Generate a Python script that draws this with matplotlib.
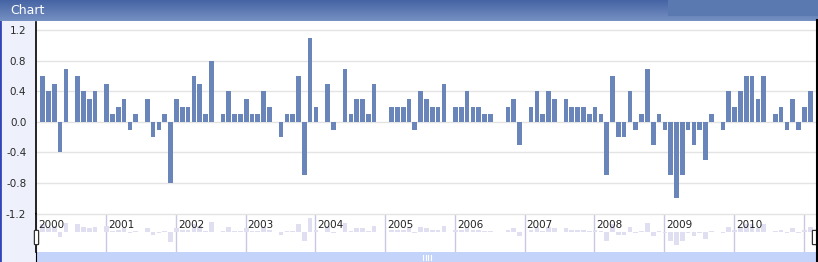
import matplotlib
matplotlib.use("Agg")
import matplotlib.pyplot as plt
import numpy as np
from matplotlib.patches import Rectangle, FancyBboxPatch

# monthly values, Jan 2000 .. Jan 2011
values = [
    0.6, 0.4, 0.5, -0.4, 0.7, 0.0, 0.6, 0.4, 0.3, 0.4, 0.0, 0.5,      # 2000
    0.1, 0.2, 0.3, -0.1, 0.1, 0.0, 0.3, -0.2, -0.1, 0.1, -0.8, 0.3,   # 2001
    0.2, 0.2, 0.6, 0.5, 0.1, 0.8, 0.0, 0.1, 0.4, 0.1, 0.1, 0.3,       # 2002
    0.1, 0.1, 0.4, 0.2, 0.0, -0.2, 0.1, 0.1, 0.6, -0.7, 1.1, 0.2,     # 2003
    0.0, 0.5, -0.1, 0.0, 0.7, 0.1, 0.3, 0.3, 0.1, 0.5, 0.0, 0.0,      # 2004
    0.2, 0.2, 0.2, 0.3, -0.1, 0.4, 0.3, 0.2, 0.2, 0.5, 0.0, 0.2,      # 2005
    0.2, 0.4, 0.2, 0.2, 0.1, 0.1, 0.0, 0.0, 0.2, 0.3, -0.3, 0.0,      # 2006
    0.2, 0.4, 0.1, 0.4, 0.3, 0.0, 0.3, 0.2, 0.2, 0.2, 0.1, 0.2,       # 2007
    0.1, -0.7, 0.6, -0.2, -0.2, 0.4, -0.1, 0.1, 0.7, -0.3, 0.1, -0.1, # 2008
    -0.7, -1.0, -0.7, -0.1, -0.3, -0.1, -0.5, 0.1, 0.0, -0.1, 0.4, 0.2,  # 2009
    0.4, 0.6, 0.6, 0.3, 0.6, 0.0, 0.1, 0.2, -0.1, 0.3, -0.1, 0.2,     # 2010
    0.4,                                                              # 2011
]
years = [2000, 2001, 2002, 2003, 2004, 2005, 2006, 2007, 2008, 2009, 2010, 2011]
y_ticks = [1.2, 0.8, 0.4, 0.0, -0.4, -0.8, -1.2]
title = "Chart"

W, H = 818, 262
fig = plt.figure(figsize=(W / 100, H / 100), dpi=100)
fig.patch.set_facecolor("white")


def px_axes(x0, y0, x1, y1, **kw):
    # pixel box measured from the top-left corner
    return fig.add_axes([x0 / W, 1 - y1 / H, (x1 - x0) / W, (y1 - y0) / H], **kw)


bar_color = "#6a85ba"
x = np.arange(len(values))
xlim = (-1.15, 133.0)

# left panel
left = px_axes(0, 20, 36, H)
left.set_facecolor("#eef0fb")
left.set_xticks([]); left.set_yticks([])
for s in left.spines.values():
    s.set_visible(False)
left.axvline(0.01, color="#3346b8", lw=2)

# title bar
tb = px_axes(0, 0, W, 21)
grad = np.linspace(0, 1, 50).reshape(-1, 1)
cmap = matplotlib.colors.LinearSegmentedColormap.from_list("tb", ["#4664a4", "#7590c2"])
tb.imshow(grad, aspect="auto", cmap=cmap, extent=[0, W, 21, 0])
tb.add_patch(Rectangle((668, 0), 150, 16, color="#5b79b1", lw=0))
tb.set_xlim(0, W); tb.set_ylim(21, 0)
tb.axis("off")
tb.text(10, 11, title, color="white", fontsize=9, va="center", ha="left")

# main chart
ax = px_axes(36, 22, 816, 213.5)
ax.bar(x, values, width=0.8, color=bar_color, zorder=2)
ax.set_xlim(*xlim)
ax.set_ylim(-1.2, 1.31)
ax.set_yticks(y_ticks)
ax.set_yticklabels([f"{v:.1f}" for v in y_ticks], fontsize=7.5, color="#2a2a2a")
ax.tick_params(axis="y", length=0, pad=7)
ax.set_xticks([])
ax.grid(axis="y", color="#e4e4e4", lw=1, zorder=0)
for k in ["top", "right", "bottom"]:
    ax.spines[k].set_visible(False)
ax.spines["left"].set_color("black")
ax.spines["left"].set_linewidth(1.2)

# navigator
nav = px_axes(36, 213.5, 816, 252)
nav.bar(x, values, width=0.8, color="#dfdff1", zorder=1)
nav.set_xlim(*xlim)
nav.set_ylim(-1.55, 1.45)
nav.set_xticks([]); nav.set_yticks([])
for k in ["top", "right", "bottom"]:
    nav.spines[k].set_visible(False)
nav.spines["left"].set_color("black")
nav.spines["left"].set_linewidth(1.2)
nav.axhline(1.45, color="#e4e4e4", lw=1)
for i, yr in enumerate(years):
    xp = 12 * i - 1.1
    nav.axvline(xp, ymin=0.03, ymax=0.95, color="#c8c8e4", lw=1, zorder=0)
    if yr < 2011:
        nav.text(xp + 0.35, 0.95, str(yr), fontsize=7.5, color="#222222",
                 va="top", ha="left")

# scrollbar
sb = px_axes(36, 252, 816, H)
sb.set_facecolor("#c3d3f9")
sb.set_xticks([]); sb.set_yticks([])
for k in ["top", "right", "bottom"]:
    sb.spines[k].set_visible(False)
sb.spines["left"].set_color("black")
sb.set_xlim(36, 816); sb.set_ylim(0, 1)
for gx in [423, 425.5, 428, 430.5]:
    sb.plot([gx, gx], [0.25, 0.75], color="white", lw=0.8)

# navigator handles
hd = px_axes(0, 0, W, H)
hd.set_xlim(0, W); hd.set_ylim(H, 0)
hd.axis("off")
for hx in [35, 813]:
    hd.add_patch(FancyBboxPatch((hx, 231), 3, 13, boxstyle="round,pad=0.6",
                                fc="white", ec="#333333", lw=0.9))
hd.plot([816.5, 816.5], [20, H], color="black", lw=1.5)

fig.savefig("out.png", dpi=100)
